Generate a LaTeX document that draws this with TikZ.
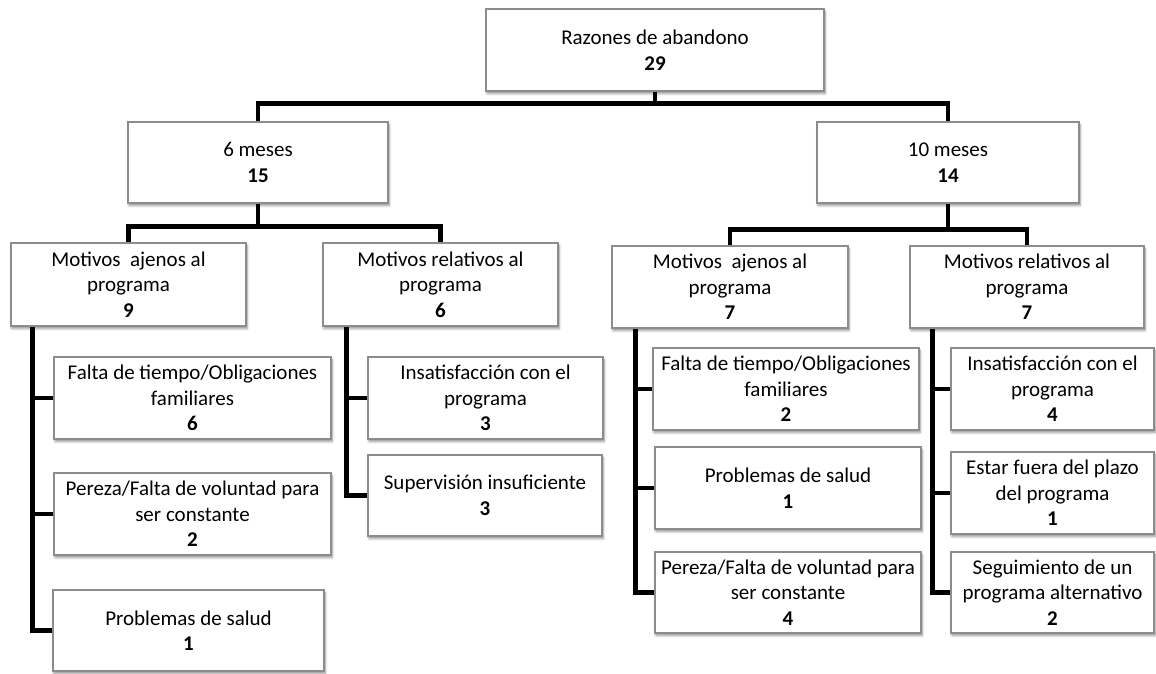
\documentclass[tikz,border=0pt]{standalone}
\usepackage{fontspec}
\setmainfont{Carlito}
\usetikzlibrary{backgrounds,shadows.blur,calc}

\definecolor{boxgray}{HTML}{8C8C8C}

\tikzset{
  box/.style={draw=boxgray, line width=1.1pt, fill=white, align=center,
    inner xsep=1pt, inner ysep=0pt,
    font=\fontsize{21}{25.6}\selectfont,
    blur shadow={shadow xshift=1pt, shadow yshift=-2.5pt,
      shadow blur radius=2.5pt, shadow blur steps=5, shadow opacity=45}},
  bus/.style={line width=4.6pt, line join=miter, draw=black},
}

\begin{document}
\begin{tikzpicture}[x=1pt,y=-1pt]
\useasboundingbox (0,0) rectangle (1156,673);

% level 0
\node[box, minimum width=338pt, minimum height=82pt] (root) at (655,50)
  {Razones de abandono\\\textbf{29}};

% level 1
\node[box, minimum width=260pt, minimum height=81pt] (m6) at (258,162.5)
  {6 meses\\\textbf{15}};
\node[box, minimum width=262pt, minimum height=81pt] (m10) at (948,162.5)
  {10 meses\\\textbf{14}};

% level 2
\node[box, minimum width=235pt, minimum height=83pt] (L1) at (128.5,284.5)
  {Motivos\ \ ajenos al\\programa\\\textbf{9}};
\node[box, minimum width=235pt, minimum height=83pt] (L2) at (440.5,284.5)
  {Motivos relativos al\\programa\\\textbf{6}};
\node[box, minimum width=236pt, minimum height=82pt] (R1) at (730,287)
  {Motivos\ \ ajenos al\\programa\\\textbf{7}};
\node[box, minimum width=234pt, minimum height=82pt] (R2) at (1027,287)
  {Motivos relativos al\\programa\\\textbf{7}};

% level 3, 6 meses
\node[box, minimum width=277pt, minimum height=82pt] (L1a) at (192.5,398)
  {Falta de tiempo/Obligaciones\\familiares\\\textbf{6}};
\node[box, minimum width=277pt, minimum height=82pt] (L1b) at (192.5,514)
  {Pereza/Falta de voluntad para\\ser constante\\\textbf{2}};
\node[box, minimum width=271pt, minimum height=81pt] (L1c) at (188.5,630.5)
  {Problemas de salud\\\textbf{1}};
\node[box, minimum width=235pt, minimum height=82pt] (L2a) at (485.5,398)
  {Insatisfacción con el\\programa\\\textbf{3}};
\node[box, minimum width=234pt, minimum height=81pt] (L2b) at (485,495.5)
  {Supervisión insuficiente\\\textbf{3}};

% level 3, 10 meses
\node[box, minimum width=266pt, minimum height=82pt] (R1a) at (786,389)
  {Falta de tiempo/Obligaciones\\familiares\\\textbf{2}};
\node[box, minimum width=266pt, minimum height=82pt] (R1b) at (788,488)
  {Problemas de salud\\\textbf{1}};
\node[box, minimum width=266pt, minimum height=81pt] (R1c) at (788,592.5)
  {Pereza/Falta de voluntad para\\ser constante\\\textbf{4}};
\node[box, minimum width=203pt, minimum height=82pt] (R2a) at (1052.5,389)
  {Insatisfacción con el\\programa\\\textbf{4}};
\node[box, minimum width=203pt, minimum height=82pt] (R2b) at (1052.5,493)
  {Estar fuera del plazo\\del programa\\\textbf{1}};
\node[box, minimum width=203pt, minimum height=81pt] (R2c) at (1052.5,592.5)
  {Seguimiento de un\\programa alternativo\\\textbf{2}};

% connectors
\begin{scope}[on background layer]
  \draw[bus] (root.south) -- ([yshift=-12pt]root.south);
  \draw[bus] (m6.north) |- ([yshift=-12pt]root.south) -| (m10.north);

  \draw[bus] (m6.south) -- ([yshift=-23pt]m6.south);
  \draw[bus] (L1.north) |- ([yshift=-23pt]m6.south) -| (L2.north);

  \draw[bus] (m10.south) -- ([yshift=-26pt]m10.south);
  \draw[bus] (R1.north) |- ([yshift=-26pt]m10.south) -| (R2.north);

  \coordinate (sL1) at ([xshift=22pt]L1.south west);
  \draw[bus] (sL1) |- (L1c.west);
  \draw[bus] (L1a.west) -- (L1a.west -| sL1);
  \draw[bus] (L1b.west) -- (L1b.west -| sL1);

  \coordinate (sL2) at ([xshift=24pt]L2.south west);
  \draw[bus] (sL2) |- (L2b.west);
  \draw[bus] (L2a.west) -- (L2a.west -| sL2);

  \coordinate (sR1) at ([xshift=24pt]R1.south west);
  \draw[bus] (sR1) |- (R1c.west);
  \draw[bus] (R1a.west) -- (R1a.west -| sR1);
  \draw[bus] (R1b.west) -- (R1b.west -| sR1);

  \coordinate (sR2) at ([xshift=23pt]R2.south west);
  \draw[bus] (sR2) |- (R2c.west);
  \draw[bus] (R2a.west) -- (R2a.west -| sR2);
  \draw[bus] (R2b.west) -- (R2b.west -| sR2);
\end{scope}
\end{tikzpicture}
\end{document}
